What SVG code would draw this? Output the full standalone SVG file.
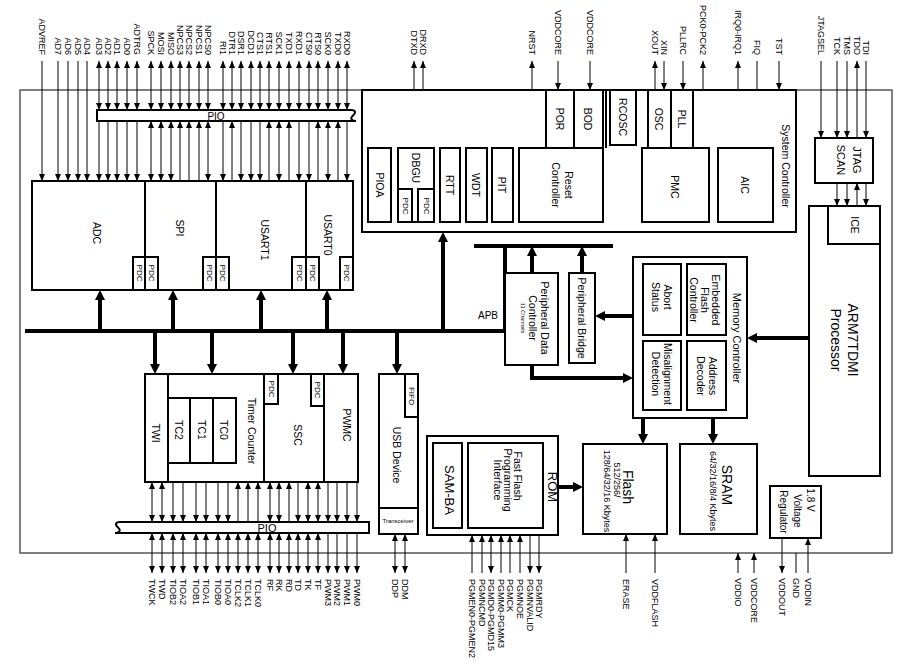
<svg xmlns="http://www.w3.org/2000/svg" width="903" height="671" viewBox="0 0 903 671">
<defs>
<marker id="a" viewBox="0 0 7 6" refX="7" refY="3" markerWidth="7" markerHeight="6" markerUnits="userSpaceOnUse" orient="auto-start-reverse"><path d="M0,0L7,3L0,6z"/></marker>
<marker id="A" viewBox="0 0 10 10" refX="4" refY="5" markerWidth="10" markerHeight="10" markerUnits="userSpaceOnUse" orient="auto-start-reverse"><path d="M0,0L10,5L0,10z"/></marker>
</defs>
<style>
.o{fill:none;stroke:#555;stroke-width:1.5}
.b{fill:#fff;stroke:#000;stroke-width:2}
.n{fill:none;stroke:#000;stroke-width:2}
.w{fill:none;stroke:#000;stroke-width:1}
.k{fill:none;stroke:#000;stroke-width:4}
.e{marker-end:url(#a)}
.s{marker-start:url(#a)}
.E{marker-end:url(#A)}
text{font-family:"Liberation Sans",Arial,sans-serif;fill:#000}
.pt{font-size:9px;text-anchor:end;dominant-baseline:central}
.pb{font-size:9px;text-anchor:start;dominant-baseline:central}
.c{text-anchor:middle;dominant-baseline:central;font-size:10.5px}
.sm{font-size:8px}
.big{font-size:14px}
</style>
<rect width="903" height="671" fill="#fff"/>
<rect id="chip" class="o" x="20" y="90" width="872" height="463"/>

<g id="connectors">
<path class="w e" d="M42,61V181"/><path class="w e" d="M58,61V181"/><path class="w e" d="M68,61V181"/><path class="w e" d="M78,61V181"/><path class="w e" d="M87,61V181"/>
<path class="w s e" d="M99,61V110"/><path class="w s e" d="M108,61V110"/><path class="w s e" d="M117,61V110"/><path class="w s e" d="M127,61V110"/><path class="w s e" d="M137,61V110"/>
<path class="w s e" d="M151,61V110"/><path class="w s e" d="M161,61V110"/><path class="w s e" d="M171,61V110"/><path class="w s e" d="M180,61V110"/><path class="w s e" d="M189,61V110"/><path class="w s e" d="M199,61V110"/><path class="w s e" d="M208,61V110"/>
<path class="w s e" d="M223,61V110"/><path class="w s e" d="M232,61V110"/><path class="w s e" d="M241,61V110"/><path class="w s e" d="M251,61V110"/><path class="w s e" d="M260,61V110"/><path class="w s e" d="M269,61V110"/><path class="w s e" d="M279,61V110"/><path class="w s e" d="M289,61V110"/><path class="w s e" d="M299,61V110"/>
<path class="w s e" d="M309,61V110"/><path class="w s e" d="M318,61V110"/><path class="w s e" d="M328,61V110"/><path class="w s e" d="M338,61V110"/><path class="w s e" d="M347,61V110"/>
<path class="w e" d="M99,121V181"/><path class="w e" d="M108,121V181"/><path class="w e" d="M117,121V181"/><path class="w e" d="M127,121V181"/><path class="w e" d="M137,121V181"/>
<path class="w s e" d="M151,121V181"/><path class="w s e" d="M161,121V181"/><path class="w s e" d="M171,121V181"/><path class="w s" d="M180,121V181"/><path class="w s" d="M189,121V181"/><path class="w s" d="M199,121V181"/><path class="w s e" d="M208,121V181"/>
<path class="w e" d="M223,121V181"/><path class="w s" d="M232,121V181"/><path class="w e" d="M241,121V181"/><path class="w e" d="M251,121V181"/><path class="w e" d="M260,121V181"/><path class="w s" d="M269,121V181"/><path class="w s e" d="M279,121V181"/><path class="w s" d="M289,121V181"/><path class="w e" d="M299,121V181"/>
<path class="w e" d="M309,121V181"/><path class="w s" d="M318,121V181"/><path class="w s e" d="M328,121V181"/><path class="w s" d="M338,121V181"/><path class="w e" d="M347,121V181"/>
<path class="w s e" d="M414,61V111"/><path class="w s e" d="M423,61V111"/>
<path class="w s e" d="M414,121V148"/><path class="w s e" d="M423,121V148"/>
<path class="w s e" d="M532,61V148"/>
<path class="w e" d="M558,61V90"/><path class="w e" d="M590,61V90"/>
<path class="w s" d="M655,61V90"/><path class="w e" d="M664,61V90"/><path class="w e" d="M683,61V90"/>
<path class="w s e" d="M703,61V109"/><path class="w e" d="M703,148V121"/>
<path class="w s e" d="M738,61V109"/><path class="w e" d="M738,121V148"/>
<path class="w e" d="M757,61V109"/><path class="w e" d="M757,121V148"/>
<path class="w e" d="M779,61V90"/>
<path class="w e" d="M821,61V138"/><path class="w e" d="M837,61V138"/><path class="w e" d="M847,61V138"/><path class="w s" d="M857,61V138"/><path class="w e" d="M866,61V138"/>
<path class="w e" d="M837,183V206"/><path class="w e" d="M847,183V206"/><path class="w s" d="M857,183V206"/><path class="w e" d="M866,183V206"/>
<path class="k" d="M25,331H505V246" stroke-width="5"/>
<path class="k" d="M474,246H613" stroke-width="5"/>
<path class="k E" d="M100,331V296"/><path class="k E" d="M173,331V296"/><path class="k E" d="M261,331V296"/><path class="k E" d="M327,331V296"/>
<path class="k E" d="M155,331V368"/><path class="k E" d="M212,331V368"/><path class="k E" d="M293,331V368"/><path class="k E" d="M343,331V368"/><path class="k E" d="M397,331V368"/>
<path class="k E" d="M443,331V238"/>
<path class="k E" d="M532,273V252"/><path class="k E" d="M582,273V252"/>
<path class="k E" d="M633,316H601"/>
<path class="k E" d="M532,365V378H627"/>
<path class="k E" d="M809,338H753"/>
<path class="k E" d="M643,418V438"/><path class="k E" d="M713,418V438"/>
<path class="k E" d="M558,487H577"/>
<path class="w s e" d="M152,482V522"/><path class="w s e" d="M162,482V522"/>
<path class="w s e" d="M173,463V522"/><path class="w s e" d="M183,463V522"/><path class="w s e" d="M196,463V522"/><path class="w s e" d="M206,463V522"/><path class="w s e" d="M218,463V522"/><path class="w s e" d="M228,463V522"/>
<path class="w s" d="M238,482V522"/><path class="w s" d="M248,482V522"/><path class="w s" d="M258,482V522"/>
<path class="w s e" d="M270,482V522"/><path class="w s e" d="M279,482V522"/><path class="w s" d="M289,482V522"/><path class="w e" d="M298,482V522"/><path class="w s e" d="M308,482V522"/><path class="w s e" d="M318,482V522"/>
<path class="w e" d="M328,482V522"/><path class="w e" d="M337,482V522"/><path class="w e" d="M347,482V522"/><path class="w e" d="M357,482V522"/>
<path class="w s e" d="M152,533V573"/><path class="w s e" d="M162,533V573"/><path class="w s e" d="M173,533V573"/><path class="w s e" d="M183,533V573"/><path class="w s e" d="M196,533V573"/><path class="w s e" d="M206,533V573"/><path class="w s e" d="M218,533V573"/><path class="w s e" d="M228,533V573"/>
<path class="w s e" d="M238,533V573"/><path class="w s e" d="M248,533V573"/><path class="w s e" d="M258,533V573"/><path class="w s e" d="M270,533V573"/><path class="w s e" d="M279,533V573"/><path class="w s e" d="M289,533V573"/><path class="w s e" d="M298,533V573"/><path class="w s e" d="M308,533V573"/><path class="w s e" d="M318,533V573"/>
<path class="w e" d="M328,533V573"/><path class="w e" d="M337,533V573"/><path class="w e" d="M347,533V573"/><path class="w e" d="M357,533V573"/>
<path class="w s e" d="M395,534V573"/><path class="w s e" d="M405,534V573"/>
<path class="w s" d="M472,535V573"/><path class="w s" d="M482,535V573"/><path class="w s e" d="M491,535V573"/><path class="w s" d="M501,535V573"/><path class="w s" d="M510,535V573"/><path class="w s" d="M520,535V573"/><path class="w e" d="M530,535V573"/><path class="w e" d="M539,535V573"/>
<path class="w e" d="M626,573V534"/><path class="w e" d="M655,573V534"/>
<path class="w e" d="M738,573V553"/><path class="w e" d="M754,573V553"/>
<path class="w e" d="M782,538V573"/><path class="w" d="M796,553V573"/><path class="w e" d="M808,573V538"/>
</g>

<g id="pio-top"><path class="b" stroke-width="1.5" d="M97,110H351C356,110 356,113 353,115.5C350,118 351,121 356,121H97Z"/><text class="c" x="216" y="116" style="font-size:10px">PIO</text></g>
<g id="pio-bottom"><path class="b" stroke-width="1.5" d="M369,522H120C115,522 115,525 118,527.5C121,530 120,533 115,533H369Z"/><text class="c" x="267" y="528" style="font-size:11px">PIO</text></g>
<g id="pio-dbgu"><path class="b" stroke-width="1.5" d="M400,111H439C444,111 444,114 441,116C438,118 439,121 444,121H400C395,121 396,118 398,116C400,114 395,111 400,111Z"/><text class="c" x="420" y="116" style="font-size:9px">PIO</text></g>
<g id="pio-sys"><path class="b" stroke-width="1.5" d="M770,109H702C697,109 697,112 700,115C703,118 702,121 697,121H770Z"/><text class="c" x="731" y="115" style="font-size:9px">PIO</text></g>

<g id="peripherals">
<rect class="b" x="32" y="181" width="321" height="109"/>
<path class="n" d="M145,181V290M216,181V290M306,181V290"/>
<rect class="b" x="133" y="257" width="12" height="33"/><rect class="b" x="145" y="257" width="13" height="33"/><rect class="b" x="203" y="257" width="13" height="33"/><rect class="b" x="216" y="257" width="13" height="33"/><rect class="b" x="292" y="257" width="14" height="33"/><rect class="b" x="306" y="257" width="13" height="33"/><rect class="b" x="340" y="257" width="13" height="33"/>
<text class="c" transform="translate(97,233) rotate(90)">ADC</text>
<text class="c" transform="translate(180,228) rotate(90)">SPI</text>
<text class="c" transform="translate(265,240) rotate(90)">USART1</text>
<text class="c" transform="translate(328,235) rotate(90)">USART0</text>
<text class="c sm" transform="translate(139,273) rotate(90)">PDC</text><text class="c sm" transform="translate(151.5,273) rotate(90)">PDC</text><text class="c sm" transform="translate(209.5,273) rotate(90)">PDC</text><text class="c sm" transform="translate(222.5,273) rotate(90)">PDC</text><text class="c sm" transform="translate(299,273) rotate(90)">PDC</text><text class="c sm" transform="translate(312.5,273) rotate(90)">PDC</text><text class="c sm" transform="translate(346.5,273) rotate(90)">PDC</text>
</g>

<g id="timer-ssc-pwmc">
<rect class="b" x="145" y="374" width="213" height="108"/>
<path class="n" d="M168,374V482M264,374V482M324,374V482"/>
<rect class="b" x="168" y="398" width="68" height="65"/>
<path class="n" d="M190,398V463M213,398V463"/>
<rect class="b" x="264" y="374" width="14" height="30"/><rect class="b" x="311" y="374" width="13" height="32"/>
<text class="c" transform="translate(156,433) rotate(90)">TWI</text>
<text class="c" transform="translate(179,430) rotate(90)">TC2</text>
<text class="c" transform="translate(202,430) rotate(90)">TC1</text>
<text class="c" transform="translate(224,430) rotate(90)">TC0</text>
<text class="c" transform="translate(252,431) rotate(90)">Timer Counter</text>
<text class="c" transform="translate(298,435) rotate(90)">SSC</text>
<text class="c" transform="translate(347,425) rotate(90)">PWMC</text>
<text class="c sm" transform="translate(271,389) rotate(90)">PDC</text>
<text class="c sm" transform="translate(317.5,390) rotate(90)">PDC</text>
</g>

<g id="usb">
<rect class="b" x="379" y="374" width="39" height="160"/>
<path class="n" d="M379,508H418"/>
<rect class="b" x="405" y="374" width="13" height="43"/>
<text class="c" transform="translate(397,455) rotate(90)">USB Device</text>
<text class="c sm" transform="translate(411.5,396) rotate(90)">FIFO</text>
<text class="c" x="398" y="521" style="font-size:6px">Transceiver</text>
</g>

<g id="system-controller">
<rect class="b" x="362" y="90" width="434" height="142"/>
<rect class="b" x="368" y="148" width="23" height="74"/>
<rect class="b" x="398" y="148" width="36" height="74"/>
<rect class="b" x="398" y="189" width="14" height="33"/><rect class="b" x="418" y="189" width="16" height="33"/>
<rect class="b" x="440" y="148" width="20" height="74"/>
<rect class="b" x="466" y="148" width="21" height="74"/>
<rect class="b" x="492" y="148" width="21" height="74"/>
<rect class="b" x="519" y="148" width="84" height="74"/>
<rect class="b" x="546" y="90" width="28" height="58"/>
<rect class="b" x="574" y="90" width="29" height="58"/>
<path class="n" d="M606,90V148"/>
<rect class="b" x="610" y="90" width="26" height="55"/>
<rect class="b" x="648" y="90" width="23" height="58"/>
<rect class="b" x="671" y="90" width="22" height="58"/>
<rect class="b" x="642" y="148" width="67" height="74"/>
<rect class="b" x="718" y="148" width="55" height="74"/>
<text class="c" transform="translate(380,185) rotate(90)">PIOA</text>
<text class="c" transform="translate(416,168) rotate(90)">DBGU</text>
<text class="c sm" transform="translate(405,206) rotate(90)">PDC</text>
<text class="c sm" transform="translate(426,206) rotate(90)">PDC</text>
<text class="c" transform="translate(450,185) rotate(90)">RTT</text>
<text class="c" transform="translate(476,185) rotate(90)">WDT</text>
<text class="c" transform="translate(502,185) rotate(90)">PIT</text>
<text class="c" transform="translate(569,185) rotate(90)">Reset</text>
<text class="c" transform="translate(556,185) rotate(90)">Controller</text>
<text class="c" transform="translate(560,119) rotate(90)">POR</text>
<text class="c" transform="translate(588,119) rotate(90)">BOD</text>
<text class="c" transform="translate(623,117) rotate(90)">RCOSC</text>
<text class="c" transform="translate(659,119) rotate(90)">OSC</text>
<text class="c" transform="translate(682,119) rotate(90)">PLL</text>
<text class="c" transform="translate(675,187) rotate(90)">PMC</text>
<text class="c" transform="translate(745,185) rotate(90)">AIC</text>
<text class="c" transform="translate(786,166) rotate(90)">System Controller</text>
</g>

<g id="jtag"><rect class="b" x="815" y="138" width="58" height="45"/>
<text class="c" transform="translate(857,160) rotate(90)" style="font-size:11px">JTAG</text>
<text class="c" transform="translate(841,160) rotate(90)" style="font-size:11px">SCAN</text></g>

<g id="arm">
<rect class="b" x="809" y="206" width="71" height="270"/>
<path class="n" d="M828,206V244H880"/>
<text class="c" transform="translate(855,225) rotate(90)">ICE</text>
<text class="c big" transform="translate(853,340) rotate(90)">ARM7TDMI</text>
<text class="c big" transform="translate(836,340) rotate(90)">Processor</text>
</g>

<g id="pdc">
<rect class="b" x="505" y="273" width="53" height="92"/>
<text class="c" transform="translate(545,318) rotate(90)">Peripheral Data</text>
<text class="c" transform="translate(533,318) rotate(90)">Controller</text>
<text class="c" transform="translate(523,318) rotate(90)" style="font-size:5.5px">11 Channels</text>
</g>
<g id="bridge"><rect class="b" x="569" y="273" width="26" height="90"/>
<text class="c" transform="translate(582,318) rotate(90)">Peripheral Bridge</text></g>

<g id="memory-controller">
<rect class="b" x="633" y="257" width="114" height="161" stroke-width="2.5"/>
<rect class="b" x="643" y="264" width="38" height="71"/>
<rect class="b" x="687" y="264" width="39" height="71"/>
<rect class="b" x="643" y="341" width="38" height="69"/>
<rect class="b" x="687" y="341" width="39" height="69"/>
<text class="c" transform="translate(737,338) rotate(90)" style="font-size:11px">Memory Controller</text>
<text class="c" transform="translate(668,297) rotate(90)">Abort</text>
<text class="c" transform="translate(656,297) rotate(90)">Status</text>
<text class="c" transform="translate(716,300) rotate(90)">Embedded</text>
<text class="c" transform="translate(705,300) rotate(90)">Flash</text>
<text class="c" transform="translate(694,300) rotate(90)">Controller</text>
<text class="c" transform="translate(668,374) rotate(90)">Misalignment</text>
<text class="c" transform="translate(656,374) rotate(90)">Detection</text>
<text class="c" transform="translate(713,376) rotate(90)">Address</text>
<text class="c" transform="translate(701,376) rotate(90)">Decoder</text>
</g>

<g id="rom">
<rect class="b" x="427" y="436" width="131" height="99"/>
<rect class="b" x="433" y="443" width="29" height="85"/>
<rect class="b" x="468" y="443" width="75" height="85"/>
<text class="c" transform="translate(552,487) rotate(90)" style="font-size:13px">ROM</text>
<text class="c" transform="translate(449,490) rotate(90)" style="font-size:13px">SAM-BA</text>
<text class="c" transform="translate(518,476) rotate(90)">Fast Flash</text>
<text class="c" transform="translate(508,480) rotate(90)">Programming</text>
<text class="c" transform="translate(498,480) rotate(90)">Interface</text>
</g>

<g id="flash"><rect class="b" x="583" y="444" width="84" height="90"/>
<text class="c big" transform="translate(628,487) rotate(90)">Flash</text>
<text class="c" transform="translate(617,480) rotate(90)" style="font-size:9px">512/256/</text>
<text class="c" transform="translate(607,491) rotate(90)" style="font-size:9px">128/64/32/16 Kbytes</text></g>

<g id="sram"><rect class="b" x="680" y="444" width="77" height="90"/>
<text class="c big" transform="translate(727,485) rotate(90)">SRAM</text>
<text class="c" transform="translate(713,491) rotate(90)" style="font-size:9px">64/32/16/8/4 Kbytes</text></g>

<g id="regulator"><rect class="b" x="770" y="486" width="51" height="52"/>
<text class="c" transform="translate(810,500) rotate(90)" style="font-size:10px">1.8 V</text>
<text class="c" transform="translate(797,511) rotate(90)" style="font-size:10px">Voltage</text>
<text class="c" transform="translate(783,512) rotate(90)" style="font-size:10px">Regulator</text></g>

<g id="apb-label"><text x="478" y="319" style="font-size:10px">APB</text></g>

<g id="pin-labels-top">
<text class="pt" transform="translate(42,55) rotate(90)">ADVREF</text>
<text class="pt" transform="translate(58,55) rotate(90)">AD7</text>
<text class="pt" transform="translate(68,55) rotate(90)">AD6</text>
<text class="pt" transform="translate(78,55) rotate(90)">AD5</text>
<text class="pt" transform="translate(87,55) rotate(90)">AD4</text>
<text class="pt" transform="translate(99,55) rotate(90)">AD3</text>
<text class="pt" transform="translate(108,55) rotate(90)">AD2</text>
<text class="pt" transform="translate(117,55) rotate(90)">AD1</text>
<text class="pt" transform="translate(127,55) rotate(90)">AD0</text>
<text class="pt" transform="translate(137,55) rotate(90)">ADTRG</text>
<text class="pt" transform="translate(151,55) rotate(90)">SPCK</text>
<text class="pt" transform="translate(161,55) rotate(90)">MOSI</text>
<text class="pt" transform="translate(171,55) rotate(90)">MISO</text>
<text class="pt" transform="translate(180,55) rotate(90)">NPCS3</text>
<text class="pt" transform="translate(189,55) rotate(90)">NPCS2</text>
<text class="pt" transform="translate(199,55) rotate(90)">NPCS1</text>
<text class="pt" transform="translate(208,55) rotate(90)">NPCS0</text>
<text class="pt" transform="translate(223,55) rotate(90)">RI1</text>
<text class="pt" transform="translate(232,55) rotate(90)">DTR1</text>
<text class="pt" transform="translate(241,55) rotate(90)">DSR1</text>
<text class="pt" transform="translate(251,55) rotate(90)">DCD1</text>
<text class="pt" transform="translate(260,55) rotate(90)">CTS1</text>
<text class="pt" transform="translate(269,55) rotate(90)">RTS1</text>
<text class="pt" transform="translate(279,55) rotate(90)">SCK1</text>
<text class="pt" transform="translate(289,55) rotate(90)">TXD1</text>
<text class="pt" transform="translate(299,55) rotate(90)">RXD1</text>
<text class="pt" transform="translate(309,55) rotate(90)">CTS0</text>
<text class="pt" transform="translate(318,55) rotate(90)">RTS0</text>
<text class="pt" transform="translate(328,55) rotate(90)">SCK0</text>
<text class="pt" transform="translate(338,55) rotate(90)">TXD0</text>
<text class="pt" transform="translate(347,55) rotate(90)">RXD0</text>
<text class="pt" transform="translate(414,55) rotate(90)">DTXD</text>
<text class="pt" transform="translate(423,55) rotate(90)">DRXD</text>
<text class="pt" transform="translate(532,55) rotate(90)">NRST</text>
<text class="pt" transform="translate(558,55) rotate(90)">VDDCORE</text>
<text class="pt" transform="translate(590,55) rotate(90)">VDDCORE</text>
<text class="pt" transform="translate(655,55) rotate(90)">XOUT</text>
<text class="pt" transform="translate(664,55) rotate(90)">XIN</text>
<text class="pt" transform="translate(683,55) rotate(90)">PLLRC</text>
<text class="pt" transform="translate(703,55) rotate(90)">PCK0-PCK2</text>
<text class="pt" transform="translate(738,55) rotate(90)">IRQ0-IRQ1</text>
<text class="pt" transform="translate(757,55) rotate(90)">FIQ</text>
<text class="pt" transform="translate(779,55) rotate(90)">TST</text>
<text class="pt" transform="translate(821,55) rotate(90)">JTAGSEL</text>
<text class="pt" transform="translate(837,55) rotate(90)">TCK</text>
<text class="pt" transform="translate(847,55) rotate(90)">TMS</text>
<text class="pt" transform="translate(857,55) rotate(90)">TDO</text>
<text class="pt" transform="translate(866,55) rotate(90)">TDI</text>
</g>

<g id="pin-labels-bottom">
<text class="pb" transform="translate(152,579) rotate(90)">TWCK</text>
<text class="pb" transform="translate(162,579) rotate(90)">TWD</text>
<text class="pb" transform="translate(173,579) rotate(90)">TIOB2</text>
<text class="pb" transform="translate(183,579) rotate(90)">TIOA2</text>
<text class="pb" transform="translate(196,579) rotate(90)">TIOB1</text>
<text class="pb" transform="translate(206,579) rotate(90)">TIOA1</text>
<text class="pb" transform="translate(218,579) rotate(90)">TIOB0</text>
<text class="pb" transform="translate(228,579) rotate(90)">TIOA0</text>
<text class="pb" transform="translate(238,579) rotate(90)">TCLK2</text>
<text class="pb" transform="translate(248,579) rotate(90)">TCLK1</text>
<text class="pb" transform="translate(258,579) rotate(90)">TCLK0</text>
<text class="pb" transform="translate(270,579) rotate(90)">RF</text>
<text class="pb" transform="translate(279,579) rotate(90)">RK</text>
<text class="pb" transform="translate(289,579) rotate(90)">RD</text>
<text class="pb" transform="translate(298,579) rotate(90)">TD</text>
<text class="pb" transform="translate(308,579) rotate(90)">TK</text>
<text class="pb" transform="translate(318,579) rotate(90)">TF</text>
<text class="pb" transform="translate(328,579) rotate(90)">PWM3</text>
<text class="pb" transform="translate(337,579) rotate(90)">PWM2</text>
<text class="pb" transform="translate(347,579) rotate(90)">PWM1</text>
<text class="pb" transform="translate(357,579) rotate(90)">PWM0</text>
<text class="pb" transform="translate(395,579) rotate(90)">DDP</text>
<text class="pb" transform="translate(405,579) rotate(90)">DDM</text>
<text class="pb" transform="translate(472,579) rotate(90)">PGMEN0-PGMEN2</text>
<text class="pb" transform="translate(482,579) rotate(90)">PGMNCMD</text>
<text class="pb" transform="translate(491,579) rotate(90)">PGMD0-PGMD15</text>
<text class="pb" transform="translate(501,579) rotate(90)">PGMM0-PGMM3</text>
<text class="pb" transform="translate(510,579) rotate(90)">PGMCK</text>
<text class="pb" transform="translate(520,579) rotate(90)">PGMNOE</text>
<text class="pb" transform="translate(530,579) rotate(90)">PGMNVALID</text>
<text class="pb" transform="translate(539,579) rotate(90)">PGMRDY</text>
<text class="pb" transform="translate(626,579) rotate(90)">ERASE</text>
<text class="pb" transform="translate(655,579) rotate(90)">VDDFLASH</text>
<text class="pb" transform="translate(738,578) rotate(90)">VDDIO</text>
<text class="pb" transform="translate(754,578) rotate(90)">VDDCORE</text>
<text class="pb" transform="translate(782,578) rotate(90)">VDDOUT</text>
<text class="pb" transform="translate(796,578) rotate(90)">GND</text>
<text class="pb" transform="translate(808,578) rotate(90)">VDDIN</text>
</g>
</svg>
